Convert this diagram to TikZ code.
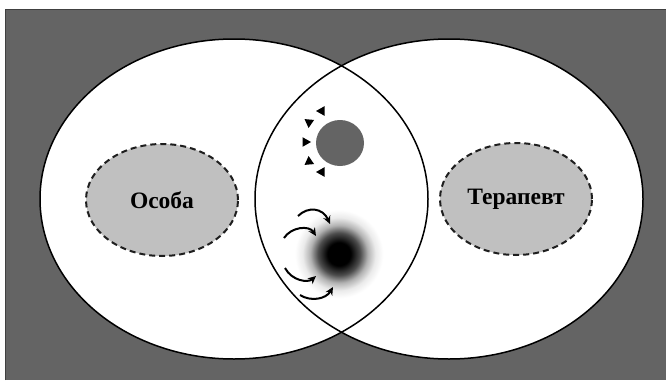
\documentclass[tikz,border=0pt]{standalone}
\usepackage{fontspec}
\setmainfont{Liberation Serif}
\usetikzlibrary{shapes.geometric,arrows.meta}
\definecolor{bggray}{HTML}{646464}
\definecolor{lightfill}{HTML}{C0C0C0}
\definecolor{dashcol}{HTML}{1E1E1E}
\pgfdeclareradialshading{spot}{\pgfpoint{0bp}{0bp}}{color(0bp)=(black); color(6bp)=(black); color(11bp)=(black!70); color(15bp)=(black!30); color(19bp)=(black!8); color(23bp)=(white); color(50bp)=(white)}
\tikzset{
  bigcircle/.style={draw=black, line width=1.5pt},
  selfbox/.style={ellipse, draw=dashcol, fill=lightfill, dash pattern=on 6pt off 4pt, line width=2pt, minimum width=152pt, minimum height=112pt, inner sep=0pt, font=\fontsize{23.5}{26}\selectfont\bfseries},
  tri/.style={fill=black},
  curvearrow/.style={line width=2pt, -{Stealth[length=8pt,width=7.5pt]}},
}
\begin{document}
\begin{tikzpicture}[x=1pt,y=-1pt]
\useasboundingbox (0,0) rectangle (666,380);
% background
\fill[bggray] (5,9) rectangle (666,380);
\draw[black!75, line width=1pt] (5,380) -- (5,9) -- (666,9);
% white circles
\fill[white] (234,199) ellipse [x radius=194, y radius=160];
\fill[white] (449,199) ellipse [x radius=194, y radius=160];
% dashed ellipses with text
\node[selfbox] (osoba) at (162,200) {Особа};
\node[selfbox] (terapevt) at (516,199) {Терапевт};
% blurred spot
\shade[shading=spot] (339,254) circle [radius=48];
% grey circle
\fill[bggray] (340,143) ellipse [x radius=24, y radius=23];
% triangles
\foreach \x/\y/\a in {321/111/180, 309/123/95, 306/142/0, 309/161/-95, 321/172/180}{
  \fill[tri, shift={(\x,\y)}, rotate=-\a] (5,0) -- (-3.5,4.8) -- (-3.5,-4.8) -- cycle;
}
% curved arrows
\coordinate (a1s) at (298,216); \coordinate (a1e) at (330,224);
\coordinate (a2s) at (284,238); \coordinate (a2e) at (316,236);
\coordinate (a3s) at (285,268); \coordinate (a3e) at (316,276);
\coordinate (a4s) at (300,295); \coordinate (a4e) at (333,287);
\draw[curvearrow] (a1s) .. controls (308,206) and (323,208) .. (a1e);
\draw[curvearrow] (a2s) .. controls (291,227) and (309,225) .. (a2e);
\draw[curvearrow] (a3s) .. controls (292,281) and (308,283) .. (a3e);
\draw[curvearrow] (a4s) .. controls (311,302) and (326,299) .. (a4e);
% circle outlines
\draw[bigcircle] (234,199) ellipse [x radius=194, y radius=160];
\draw[bigcircle] (449,199) ellipse [x radius=194, y radius=160];
\end{tikzpicture}
\end{document}
